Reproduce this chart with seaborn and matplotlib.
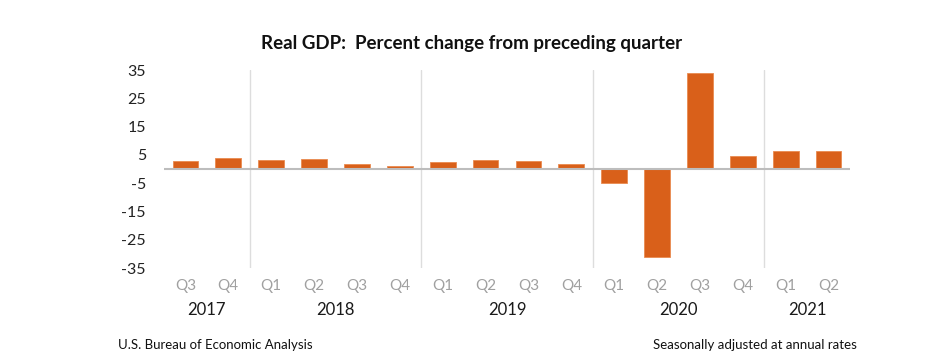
import matplotlib
matplotlib.use("Agg")
import matplotlib.pyplot as plt
import matplotlib.transforms as mtransforms
import seaborn as sns
import pandas as pd

# ---- data ----
years = ["2017", "2018", "2019", "2020", "2021"]
quarters_per_year = [["Q3", "Q4"],
                     ["Q1", "Q2", "Q3", "Q4"],
                     ["Q1", "Q2", "Q3", "Q4"],
                     ["Q1", "Q2", "Q3", "Q4"],
                     ["Q1", "Q2"]]
gdp_change = [2.9, 3.8, 3.1, 3.4, 1.9, 0.9,
              2.4, 3.2, 2.8, 1.9,
              -5.1, -31.2, 33.8, 4.5,
              6.3, 6.5]
y_ticks = [35, 25, 15, 5, -5, -15, -25, -35]

title = "Real GDP:  Percent change from preceding quarter"
source_note = "U.S. Bureau of Economic Analysis"
rate_note = "Seasonally adjusted at annual rates"

# ---- build table ----
periods, qlabels = [], []
for yr, qs in zip(years, quarters_per_year):
    for q in qs:
        periods.append(f"{yr} {q}")
        qlabels.append(q)
df = pd.DataFrame({"period": periods, "value": gdp_change})

sns.set_theme(style="white")
plt.rcParams["font.family"] = ["Lato", "DejaVu Sans"]

fig = plt.figure(figsize=(9.32, 3.6), dpi=100)
ax = fig.add_axes([164 / 932, 1 - 268 / 360, (850 - 164) / 932, (268 - 70) / 360])

bar_color = "#D9601A"
sns.barplot(data=df, x="period", y="value", color=bar_color, width=0.6,
            saturation=1, ax=ax, edgecolor="#E98A50", linewidth=0.6)

ax.set_ylim(-35, 35)
ax.set_xlim(-0.5, len(periods) - 0.5)
ax.set_yticks(y_ticks)
ax.set_yticklabels([str(t) for t in y_ticks], fontsize=11.5, color="#222222")
ax.set_xticks(range(len(periods)))
ax.set_xticklabels(qlabels, fontsize=11, color="#A0A0A0")
ax.tick_params(axis="both", length=0)
ax.tick_params(axis="y", pad=13)
ax.tick_params(axis="x", pad=8)
ax.set_xlabel("")
ax.set_ylabel("")
for s in ax.spines.values():
    s.set_visible(False)

# zero line
ax.axhline(0, color="#BDBDBD", lw=1.5, zorder=3)

# year separators and year labels
trans = mtransforms.blended_transform_factory(ax.transData, fig.transFigure)
start = 0
for i, (yr, qs) in enumerate(zip(years, quarters_per_year)):
    n = len(qs)
    center = start + (n - 1) / 2
    fig.text(center, 1 - 310 / 360, yr, transform=trans, ha="center", va="center",
             fontsize=12, color="#1a1a1a")
    if i > 0:
        ax.axvline(start - 0.5, color="#DDDDDD", lw=1.0, zorder=0)
    start += n

fig.text(472 / 932, 1 - 44 / 360, title, ha="center", va="center",
         fontsize=13.5, fontweight="bold", color="#111111")
fig.text(118 / 932, 1 - 345 / 360, source_note, ha="left", va="center",
         fontsize=9.5, color="#111111")
fig.text(857 / 932, 1 - 345 / 360, rate_note, ha="right", va="center",
         fontsize=9.5, color="#111111")

fig.savefig("out.png", dpi=100, facecolor="white")
